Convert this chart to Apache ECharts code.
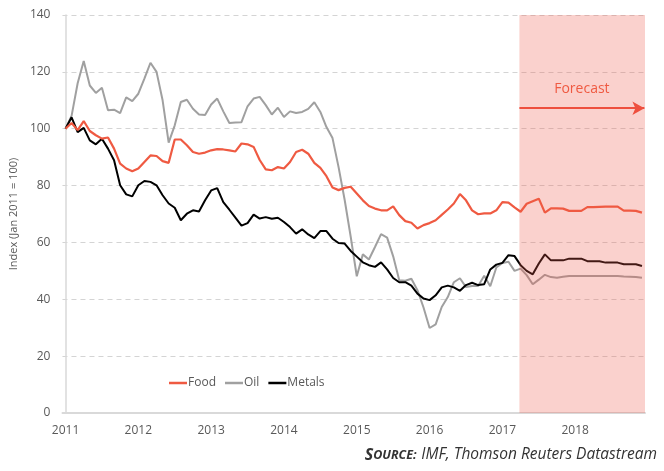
<!DOCTYPE html>
<html>
<head>
<meta charset="utf-8">
<script src="https://cdn.jsdelivr.net/npm/echarts@6/dist/echarts.min.js"></script>
<style>
  html, body { margin: 0; padding: 0; background: #fff; }
  #chart { width: 664px; height: 471px; }
</style>
</head>
<body>
<div id="chart"></div>
<script>
// monthly index, Jan 2011 = 100 (Jan 2011 .. Dec 2018)
const yearLabels = ['2011', '2012', '2013', '2014', '2015', '2016', '2017', '2018'];
const forecastStart = 74.8; // months since Jan 2011

const food = [
  100, 102, 99.5, 102.7, 99.2, 97.7, 96.5, 96.9, 93, 87.7, 86, 85,
  86, 88.3, 90.6, 90.4, 88.6, 88, 96.2, 96.2, 94.2, 91.8, 91.2, 91.6,
  92.4, 92.8, 92.7, 92.4, 92, 94.8, 94.5, 93.6, 89, 85.7, 85.4, 86.5,
  86, 88.3, 91.8, 92.6, 91.2, 88, 86.2, 83.3, 79.3, 78.4, 79.2, 79.6,
  77.2, 74.8, 72.8, 71.9, 71.3, 71.3, 72.7, 69.6, 67.5, 66.9, 64.9, 66.1,
  66.8, 67.8, 69.7, 71.6, 73.7, 77, 74.8, 71.3, 69.9, 70.2, 70.2, 71.3,
  74.2, 74, 72.3, 70.8, 73.6, 74.5, 75.4, 70.5, 72, 72, 71.9, 71.1,
  71.1, 71.1, 72.4, 72.4, 72.5, 72.6, 72.6, 72.6, 71.2, 71.2, 71.1, 70.5
];

const oil = [
  100, 104.5, 116, 123.8, 115.2, 112.6, 114.4, 106.5, 106.7, 105.5, 111, 109.7,
  112.3, 117.6, 123.2, 120, 110, 95.1, 101.2, 109.4, 110.2, 107, 105, 104.8,
  108.5, 110.6, 106.1, 102, 102.2, 102.3, 107.9, 110.6, 111.2, 108.3, 105, 107.4,
  104.1, 106.1, 105.5, 105.9, 107, 109.3, 105.9, 100.6, 96.7, 86.5, 75, 62,
  48.1, 55.8, 54, 58.4, 62.9, 61.7, 55.1, 46.7, 46.5, 47.2, 43.2, 37.1,
  29.9, 31.2, 37.3, 40.8, 46, 47.4, 44.3, 44.7, 44.7, 48.3, 44.6, 51.2,
  52.8, 53.2, 50, 50.8, 48.5, 45.3, 46.9, 48.6, 47.8, 47.6, 47.9, 48.2,
  48.2, 48.2, 48.2, 48.2, 48.2, 48.2, 48.2, 48.2, 48, 47.9, 47.8, 47.6
];

const metals = [
  100, 104, 98.8, 100.3, 95.9, 94.5, 96.5, 93, 88.9, 80.1, 76.9, 76.2,
  80.1, 81.6, 81.3, 80.1, 76.6, 73.7, 72.2, 67.8, 70.1, 71.3, 70.9, 74.8,
  78.3, 79.1, 74.2, 71.5, 68.7, 65.9, 66.8, 69.8, 68.4, 68.9, 68.3, 68.7,
  67.2, 65.4, 63.1, 64.6, 62.8, 61.5, 64, 64, 61.3, 59.8, 59.6, 57,
  55, 53, 52, 51.4, 53, 50.5, 47.5, 46, 46, 44.8, 42, 40.3,
  39.7, 41.4, 44.2, 44.8, 44.2, 43, 45, 45.8, 45, 45.3, 50.5, 52.2,
  52.8, 55.5, 55.2, 52, 50, 48.8, 52.6, 55.8, 53.7, 53.7, 53.7, 54.3,
  54.3, 54.3, 53.4, 53.4, 53.4, 52.9, 52.9, 52.9, 52.3, 52.3, 52.3, 51.7
];

const toPoints = arr => arr.map((v, i) => [i, v]);
const yearTicks = yearLabels.map((y, i) => i * 12);

const grey = '#595959';
const chart = echarts.init(document.getElementById('chart'));

chart.setOption({
  animation: false,
  backgroundColor: '#ffffff',
  textStyle: { fontFamily: 'Open Sans' },
  grid: { left: 60, right: 19, top: 15, bottom: 58 },
  legend: {
    data: ['Food', 'Oil', 'Metals'],
    left: 164,
    top: 372,
    icon: 'rect',
    itemWidth: 18,
    itemHeight: 2.5,
    itemGap: 9,
    textStyle: { color: grey, fontSize: 12, padding: [0, 0, 0, -4] }
  },
  xAxis: {
    type: 'value',
    min: -0.5,
    max: 95.5,
    axisLine: { lineStyle: { color: '#d9d9d9', width: 2 } },
    axisTick: { show: false },
    splitLine: { show: false },
    axisLabel: {
      customValues: yearTicks,
      color: grey,
      fontSize: 12,
      margin: 12,
      formatter: v => yearLabels[Math.round(v / 12)]
    }
  },
  yAxis: {
    type: 'value',
    min: 0,
    max: 140,
    interval: 20,
    name: 'Index (Jan 2011 = 100)',
    nameLocation: 'middle',
    nameGap: 42,
    nameTextStyle: { color: grey, fontSize: 11 },
    axisLine: { show: true, lineStyle: { color: '#d9d9d9', width: 1.5 } },
    axisTick: { show: false },
    axisLabel: { color: grey, fontSize: 12, margin: 12 },
    splitLine: { lineStyle: { color: '#d4d4d4', type: [5, 4], width: 1 } }
  },
  series: [
    {
      name: 'Oil',
      type: 'line',
      z: 2,
      data: toPoints(oil),
      showSymbol: false,
      lineStyle: { color: '#a0a0a0', width: 2 },
      itemStyle: { color: '#a0a0a0' }
    },
    {
      name: 'Metals',
      type: 'line',
      z: 3,
      data: toPoints(metals),
      showSymbol: false,
      lineStyle: { color: '#000000', width: 2 },
      itemStyle: { color: '#000000' }
    },
    {
      name: 'shade',
      type: 'line',
      z: 4,
      data: [],
      markArea: {
        silent: true,
        z: 4,
        itemStyle: { color: 'rgba(238, 88, 76, 0.28)' },
        data: [[{ xAxis: forecastStart }, { xAxis: 95.5 }]]
      }
    },
    {
      name: 'Food',
      type: 'line',
      z: 5,
      data: toPoints(food),
      showSymbol: false,
      lineStyle: { color: '#ef5a42', width: 2.2 },
      itemStyle: { color: '#ef5a42' },
      markLine: {
        silent: true,
        z: 6,
        symbol: ['none', 'arrow'],
        symbolSize: [10, 12],
        lineStyle: { color: '#ee4f3e', width: 2, type: 'solid' },
        label: {
          show: true,
          position: 'insideMiddleTop',
          distance: 12,
          formatter: 'Forecast',
          color: '#ef5a42',
          fontSize: 14
        },
        data: [[{ coord: [forecastStart, 107.2] }, { coord: [95.4, 107.2] }]]
      }
    }
  ],
  title: {
    right: 2,
    bottom: 2,
    text: '{s|S}{c|OURCE:} {n|IMF, Thomson Reuters Datastream}',
    textStyle: {
      fontWeight: 'normal',
      rich: {
        s: { fontSize: 16, fontWeight: 'bold', fontStyle: 'italic', color: '#333' },
        c: { fontSize: 12.5, fontWeight: 'bold', fontStyle: 'italic', color: '#333' },
        n: { fontSize: 15.5, fontWeight: 'normal', fontStyle: 'italic', color: '#333' }
      }
    }
  }
});
</script>
</body>
</html>
